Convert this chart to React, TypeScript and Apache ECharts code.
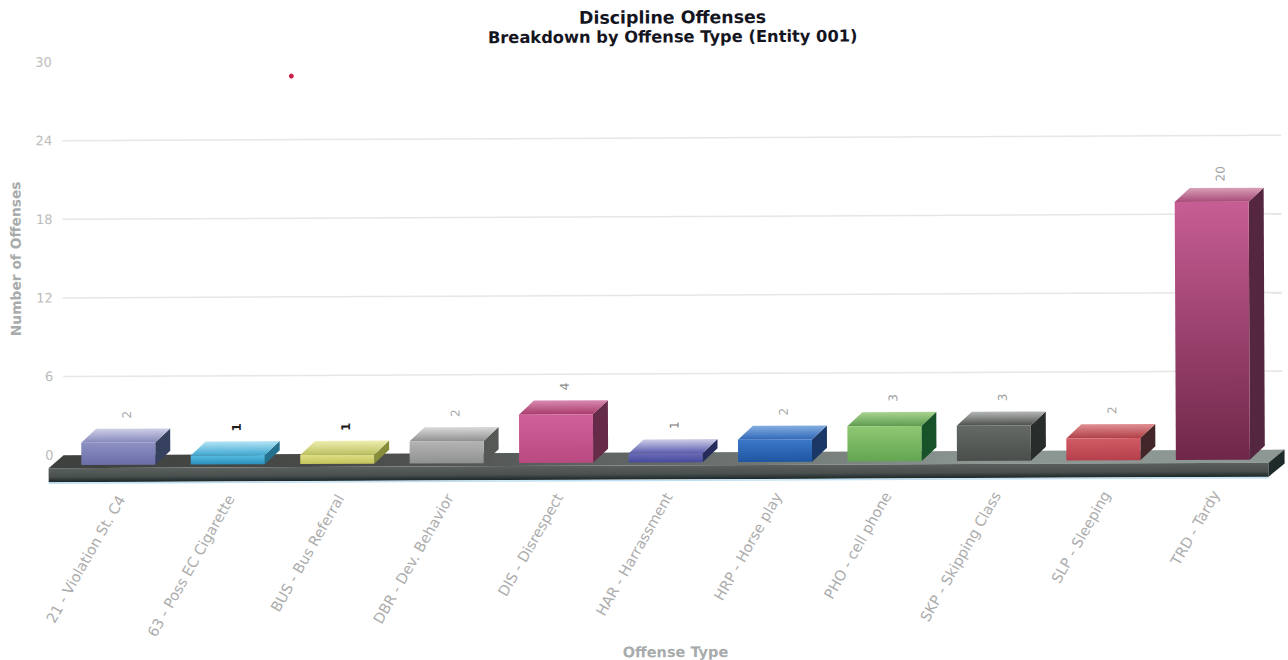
import React, { useEffect, useRef } from "react";
import * as echarts from "echarts";

const categories = [
  "21 - Violation St. C4",
  "63 - Poss EC Cigarette",
  "BUS - Bus Referral",
  "DBR - Dev. Behavior",
  "DIS - Disrespect",
  "HAR - Harrassment",
  "HRP - Horse play",
  "PHO - cell phone",
  "SKP - Skipping Class",
  "SLP - Sleeping",
  "TRD - Tardy",
];
const offenses = [2, 1, 1, 2, 4, 1, 2, 3, 3, 2, 20];
const gridTicks = [6, 12, 18, 24];

// [front top, front bottom, top back, top front, side]
const palette = [
  ["#8d90c2", "#6a6ea8", "#cfcfe6", "#8487bb", "#36415f"],
  ["#58bde0", "#2a8fbd", "#b5e5f5", "#3fa8d2", "#23708f"],
  ["#dede85", "#c4c45c", "#eeeeb0", "#bcc060", "#858c3a"],
  ["#b4b4b4", "#8f9190", "#dadada", "#8f918f", "#555855"],
  ["#d0609a", "#b94a80", "#d88ab0", "#a83a6c", "#672b4a"],
  ["#6a6cb8", "#474a9c", "#cfcfe8", "#5a5cae", "#252c5c"],
  ["#3a78c8", "#1f56a2", "#84aee0", "#2f68b8", "#1b3766"],
  ["#8fc873", "#64a552", "#a8d490", "#5f9c50", "#175228"],
  ["#666a67", "#4a4e4b", "#b5b8b5", "#4c504d", "#282d2b"],
  ["#d25c66", "#b53f4a", "#e08f92", "#b04048", "#432629"],
  ["#c75d94", "#6f2748", "#d8a0b8", "#a84a78", "#54263f"],
];
const labelColors = ["#a8a8a8", "#1c1c1c", "#1c1c1c", "#a8a8a8", "#8c8c8c", "#777777", "#a8a8a8", "#a0a0a0", "#a0a0a0", "#a8a8a8", "#a0a0a0"];

const FONT = "'DejaVu Sans', sans-serif";
const BAR = 74;
const DX = 15;
const DY = 14;

const vGrad = (a: string, b: string) =>
  new echarts.graphic.LinearGradient(0, 0, 0, 1, [
    { offset: 0, color: a },
    { offset: 1, color: b },
  ]);
const hGrad = (stops: string[]) =>
  new echarts.graphic.LinearGradient(
    0, 0, 1, 0,
    stops.map((color, i) => ({ offset: i / (stops.length - 1), color })),
  );

export default function App() {
  const ref = useRef<HTMLDivElement>(null);
  useEffect(() => {
    const chart = echarts.init(ref.current!, undefined, { renderer: "svg" });
    chart.setOption({
      animation: false,
      backgroundColor: "#ffffff",
      title: {
        text: "Discipline Offenses",
        subtext: "Breakdown by Offense Type (Entity 001)",
        left: 669,
        top: 4,
        textAlign: "center",
        itemGap: 3,
        textStyle: { fontFamily: FONT, fontSize: 17.4, fontWeight: "bold", color: "#15151f" },
        subtextStyle: { fontFamily: FONT, fontSize: 16.3, fontWeight: "bold", color: "#15151f" },
      },
      grid: { left: 78, right: 6, top: 59.5, bottom: 207.5, outerBoundsMode: "none" },
      xAxis: {
        type: "category",
        data: categories,
        name: "Offense Type",
        nameLocation: "middle",
        nameGap: 191,
        nameTextStyle: { fontFamily: FONT, fontSize: 14.5, fontWeight: "bold", color: "#a8abab", padding: [0, 12, 0, 0] },
        axisLine: { show: false },
        axisTick: { show: false },
        axisLabel: {
          rotate: 60,
          margin: 21,
          interval: 0,
          fontFamily: FONT,
          fontSize: 14.5,
          color: "#acacac",
          padding: [0, 24, 22, 0],
        },
      },
      yAxis: {
        type: "value",
        min: 0,
        max: 30,
        interval: 6,
        name: "Number of Offenses",
        nameLocation: "middle",
        nameGap: 55,
        nameTextStyle: { fontFamily: FONT, fontSize: 13.8, fontWeight: "bold", color: "#a8abab" },
        axisLine: { show: false },
        axisTick: { show: false },
        splitLine: { show: false },
        axisLabel: { margin: 25, fontFamily: FONT, fontSize: 13, color: "#bcbcbc" },
      },
      series: [
        {
          type: "custom",
          name: "gridlines",
          z: 1,
          silent: true,
          data: gridTicks.map((t) => [0, t]),
          encode: { x: 0, y: 1 },
          renderItem: (_p: any, api: any) => {
            const band = api.size([1, 0])[0];
            const y = api.coord([0, api.value(1)])[1];
            const x0 = api.coord([0, 0])[0] - band / 2 - DX;
            const x1 = api.coord([categories.length - 1, 0])[0] + band / 2;
            return {
              type: "line",
              shape: { x1: x0, y1: y, x2: x1, y2: y },
              style: { stroke: "#e6e6e4", lineWidth: 1.5 },
            };
          },
        },
        {
          type: "custom",
          name: "floor",
          z: 2,
          silent: true,
          data: [[0, 0]],
          encode: { x: 0, y: 1 },
          renderItem: (_p: any, api: any) => {
            const band = api.size([1, 0])[0];
            const [cx, y] = api.coord([0, 0]);
            const l = cx - band / 2 - DX;
            const r = api.coord([categories.length - 1, 0])[0] + band / 2 + 2;
            const fy = y + 13;
            const h = 14;
            return {
              type: "group",
              children: [
                {
                  type: "polygon",
                  shape: { points: [[l, y], [r, y], [r - 16, fy], [l - 15, fy]] },
                  style: { fill: hGrad(["#3e403e", "#4a4c4a", "#646a68", "#8b9592", "#8d9794"]) },
                },
                {
                  type: "polygon",
                  shape: { points: [[l - 15, fy], [r - 16, fy], [r - 16, fy + h], [l - 15, fy + h]] },
                  style: {
                    fill: new echarts.graphic.LinearGradient(0, 0, 0, 1, [
                      { offset: 0, color: "#5a605e" },
                      { offset: 0.6, color: "#4a504e" },
                      { offset: 1, color: "#1a2628" },
                    ]),
                  },
                },
                {
                  type: "polygon",
                  shape: { points: [[r - 16, fy], [r, y], [r, y + h], [r - 16, fy + h]] },
                  style: { fill: "#1f2a2a" },
                },
                {
                  type: "line",
                  shape: { x1: l - 15, y1: fy + h + 1, x2: r - 16, y2: fy + h + 1 },
                  style: { stroke: "#bfe0f2", lineWidth: 1.5 },
                },
              ],
            };
          },
        },
        {
          type: "custom",
          name: "Offenses",
          z: 3,
          data: offenses.map((v, i) => [i, v]),
          encode: { x: 0, y: 1 },
          renderItem: (_p: any, api: any) => {
            const i = api.value(0);
            const v = api.value(1);
            const c = palette[i];
            const [bx, by] = api.coord([i, 0]);
            const ty = api.coord([i, v])[1];
            const l = bx - DX - BAR / 2;
            const r = l + BAR;
            const bot = by + 10;
            const top = ty + DY;
            return {
              type: "group",
              children: [
                {
                  type: "polygon",
                  shape: { points: [[r, top], [r + DX, top - DY], [r + DX, bot - DY], [r, bot]] },
                  style: { fill: c[4] },
                },
                {
                  type: "polygon",
                  shape: { points: [[l, top], [l + DX, top - DY], [r + DX, top - DY], [r, top]] },
                  style: { fill: vGrad(c[2], c[3]) },
                },
                {
                  type: "rect",
                  shape: { x: l, y: top, width: BAR, height: bot - top },
                  style: { fill: vGrad(c[0], c[1]) },
                },
                {
                  type: "text",
                  x: bx - 6,
                  y: ty - 14,
                  rotation: Math.PI / 2,
                  style: {
                    text: String(v),
                    fill: labelColors[i],
                    font: `${labelColors[i] === "#1c1c1c" ? "bold " : ""}12px ${FONT}`,
                    align: "center",
                    verticalAlign: "middle",
                  },
                },
              ],
            };
          },
        },
      ],
      graphic: [
        {
          type: "circle",
          left: 290,
          top: 72,
          shape: { r: 2.5 },
          style: { fill: "#c8204a" },
        },
      ],
    });
    return () => chart.dispose();
  }, []);
  return (
    <div
      ref={ref}
      style={{
        position: "absolute",
        left: 0,
        top: 0,
        width: 1288,
        height: 660,
        transform: "rotate(-0.26deg)",
      }}
    />
  );
}
